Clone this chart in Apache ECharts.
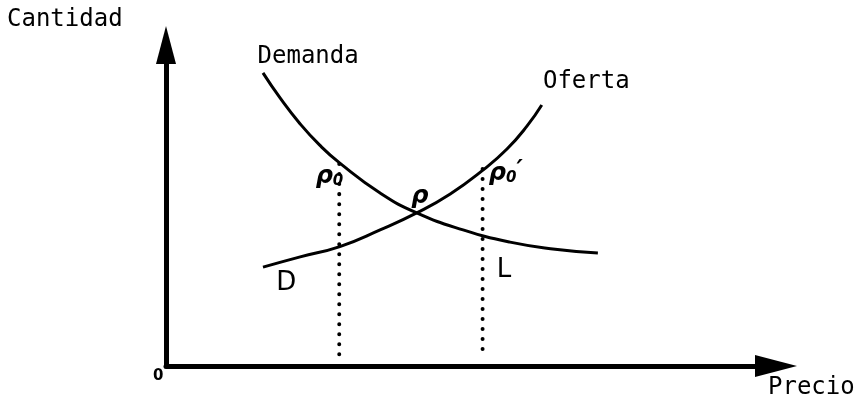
<!DOCTYPE html>
<html lang="es">
<head>
	<meta charset="UTF-8">
	<title>oferta_demanda</title>
	<script type="text/javascript" src="https://cdn.jsdelivr.net/npm/echarts@6/dist/echarts.min.js"></script>
</head>
<body style="margin:0;background:#fff;">
<div id="chart" style="width: 858px;height: 401px"></div>

<script type="text/javascript">
    // curvas (precio, cantidad) en unidades 0-100
    var demanda = [[15.9, 91.3], [18.7, 83.5], [22.0, 75.4], [25.2, 68.8], [28.5, 63.2], [35.1, 53.9],
        [41.1, 47.7], [48.7, 42.4], [56.4, 38.6], [63.8, 36.4], [70.8, 35.2]];
    var oferta = [[15.9, 30.8], [22.0, 34.0], [28.5, 37.2], [35.1, 42.4], [41.1, 47.7], [46.6, 53.6],
        [52.0, 61.1], [55.9, 67.6], [59.2, 74.8], [61.6, 81.3]];

    // lineas punteadas: precio, cantidad arriba, cantidad abajo
    var punteadaP0 = [[28.4, 62.9], [28.4, 1.6]];
    var punteadaP0b = [[51.9, 61.4], [51.9, 2.8]];

    // etiquetas sobre el grafico
    var etiquetas = [
        {name: 'Demanda', value: [23.3, 96.3], tipo: 'mono'},
        {name: 'Oferta', value: [68.9, 88.5], tipo: 'mono'},
        {name: 'ρ{s|0}', value: [26.8, 58.9], tipo: 'rho'},
        {name: 'ρ{s|0}{p|′}', value: [55.7, 59.8], tipo: 'rho'},
        {name: 'ρ', value: [41.6, 52.6], tipo: 'rho'},
        {name: 'D', value: [19.7, 25.9], tipo: 'letra'},
        {name: 'L', value: [55.4, 29.9], tipo: 'letra'}
    ];

    var chart = echarts.init(document.getElementById('chart'));

    var estilos = {
        mono: {fontFamily: 'DejaVu Sans Mono', fontSize: 24, color: '#000'},
        rho: {fontFamily: 'DejaVu Sans', fontSize: 24, fontStyle: 'italic', fontWeight: 'bold', color: '#000',
            rich: {
                s: {fontFamily: 'DejaVu Sans', fontSize: 15, fontWeight: 'bold', color: '#000', padding: [9, 0, 0, 0]},
                p: {fontFamily: 'DejaVu Sans', fontSize: 24, fontWeight: 'bold', color: '#000', padding: [0, 0, 6, 0]}
            }},
        letra: {fontFamily: 'DejaVu Sans', fontSize: 26, color: '#000'}
    };

    var datosEtiquetas = etiquetas.map(function (e) {
        var st = estilos[e.tipo];
        return {
            name: e.name,
            value: e.value,
            label: Object.assign({show: true, position: 'inside', formatter: e.name}, st)
        };
    });

    var punteada = {
        type: 'line',
        symbol: 'none',
        silent: true,
        lineStyle: {color: '#000', width: 4, type: [0.01, 10], cap: 'round'}
    };

    var option = {
        animation: false,
        grid: {left: 166, right: 82, top: 45, bottom: 35},
        xAxis: {
            type: 'value', min: 0, max: 100,
            splitLine: {show: false}, axisTick: {show: false}, axisLabel: {show: false},
            axisLine: {show: true, lineStyle: {color: '#000', width: 5},
                symbol: ['none', 'triangle'], symbolSize: [22, 42]}
        },
        yAxis: {
            type: 'value', min: 0, max: 100,
            splitLine: {show: false}, axisTick: {show: false}, axisLabel: {show: false},
            axisLine: {show: true, lineStyle: {color: '#000', width: 5},
                symbol: ['none', 'triangle'], symbolSize: [20, 38]}
        },
        graphic: [
            {type: 'text', left: 7, top: 8, style: {text: 'Cantidad', fontSize: 24, fontFamily: 'DejaVu Sans Mono', fill: '#000'}},
            {type: 'text', left: 768, top: 376, style: {text: 'Precio', fontSize: 24, fontFamily: 'DejaVu Sans Mono', fill: '#000'}},
            {type: 'text', left: 153, top: 369, style: {text: '0', fontSize: 15, fontWeight: 'bold', fontFamily: 'DejaVu Sans', fill: '#000'}}
        ],
        series: [
            {
                name: 'Demanda', type: 'line', smooth: true, symbol: 'none', silent: true,
                lineStyle: {color: '#000', width: 3},
                data: demanda
            },
            {
                name: 'Oferta', type: 'line', smooth: true, symbol: 'none', silent: true,
                lineStyle: {color: '#000', width: 3},
                data: oferta
            },
            Object.assign({name: 'p0', data: punteadaP0}, punteada),
            Object.assign({name: 'p0b', data: punteadaP0b}, punteada),
            {
                name: 'etiquetas', type: 'scatter', symbolSize: 0, silent: true,
                itemStyle: {opacity: 1},
                data: datosEtiquetas
            }
        ]
    };

    chart.setOption(option);
</script>
</body>
</html>
